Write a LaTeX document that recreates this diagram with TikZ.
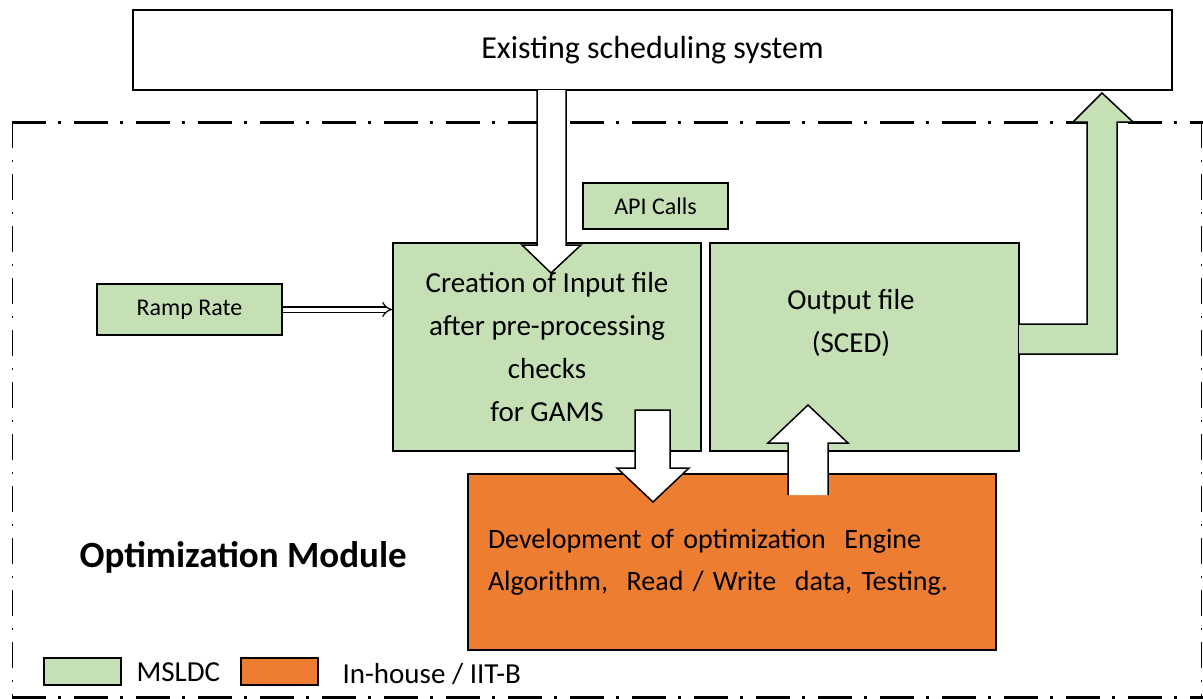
\documentclass[tikz,border=0pt]{standalone}
\usepackage{fontspec}
\setmainfont{Carlito}
\usetikzlibrary{positioning,arrows.meta}
\definecolor{msgreen}{HTML}{C5E0B4}
\definecolor{iitorange}{HTML}{ED7D31}
\tikzset{
  greenbox/.style={draw, line width=1.5pt, fill=msgreen, inner sep=0pt},
  orangebox/.style={draw, line width=1.5pt, fill=iitorange, inner sep=0pt},
  blockarrow/.style={draw, line width=1.5pt, fill=white, line join=miter},
  bigtext/.style={font=\fontsize{29}{43}\selectfont},
  smalltext/.style={font=\fontsize{24}{28}\selectfont},
  keytext/.style={font=\fontsize{29}{33}\selectfont},
  framedash/.style={dash pattern=on 34pt off 12pt on 3pt off 13pt},
  sidedash/.style={dash pattern=on 26pt off 12pt on 2pt off 12pt},
  feed/.style={double, double distance=4pt, line width=1.2pt, -{Implies[length=6pt]}},
}

\begin{document}
\begin{tikzpicture}[x=1pt, y=-1pt]
  \useasboundingbox (0,0) rectangle (1203,699);

  % module frame
  \draw[line width=3pt, framedash] (12,122) -- (1203,122);
  \draw[line width=1pt, sidedash] (12,122) -- (12,699);
  \draw[line width=1pt, sidedash] (1201,122) -- (1201,699);
  \draw[line width=3pt, framedash] (12,697) -- (1203,697);

  \node[draw, line width=1.5pt, fill=white, minimum width=1039pt, minimum height=80pt, font=\fontsize{32}{36}\selectfont] (sched) at (652.5,50) {Existing scheduling system};

  \node[greenbox, minimum width=308pt, minimum height=208pt, bigtext, align=center] (input) at (547,347) {Creation of Input file\\after pre-processing\\checks\\for GAMS};
  \node[greenbox, minimum width=309pt, minimum height=208pt] (output) at (864.5,347) {};
  \node[bigtext, align=center] (outtext) at (851,323) {Output file\\(SCED)};
  \node[greenbox, minimum width=145pt, minimum height=46pt, smalltext] (api) at (655.5,206) {API Calls};
  \node[greenbox, minimum width=185pt, minimum height=51pt, smalltext] (ramp) at (189.5,309.5) {Ramp Rate};
  \draw[feed] (ramp.east) -- (ramp.east -| input.west);

  \node[orangebox, minimum width=528pt, minimum height=176pt, text width=488pt, inner xsep=20pt, align=left, font=\fontsize{28}{42}\selectfont] (engine) at (732,562) {Development of optimization\ \ Engine\\Algorithm,\ \ Read / Write\ \ data, Testing.};

  \node[font=\fontsize{37}{41}\selectfont\bfseries, anchor=west] (modlabel) at (76,557) {Optimization Module};

  % block arrows
  \draw[blockarrow] (537,90) -- (537,245) -- (522,245) -- (551,273) -- (581,245) -- (566,245) -- (566,90);
  \draw[blockarrow] (635,410) -- (670,410) -- (670,468) -- (689,468) -- (653,502) -- (617,468) -- (635,468) -- cycle;
  \draw[blockarrow] (788,495) -- (788,443) -- (768,443) -- (808,405) -- (848,443) -- (828,443) -- (828,495);
  \draw[blockarrow, fill=msgreen] (1019,324) -- (1087,324) -- (1087,122) -- (1073,122) -- (1102,93) -- (1133,122) -- (1117,122) -- (1117,354) -- (1019,354);

  % legend
  \node[greenbox, minimum width=77pt, minimum height=27pt] (keygreen) at (82.5,671.5) {};
  \node[anchor=west, keytext] (keymsldc) at (133,672) {MSLDC};
  \node[orangebox, minimum width=77pt, minimum height=27pt] (keyorange) at (279.5,671.5) {};
  \node[anchor=west, keytext] (keyiit) at (339,674) {In-house / IIT-B};
\end{tikzpicture}
\end{document}
